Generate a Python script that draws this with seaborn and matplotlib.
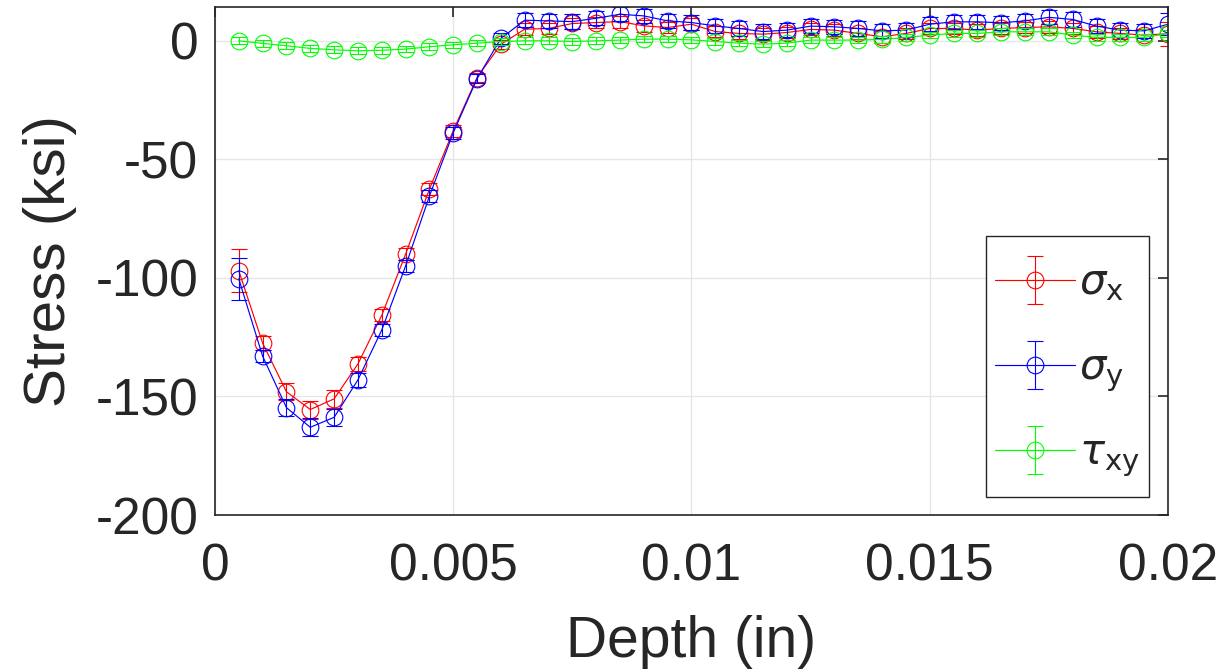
import numpy as np
import pandas as pd
import matplotlib
matplotlib.use("Agg")
import matplotlib.pyplot as plt
import seaborn as sns
from matplotlib.container import ErrorbarContainer
from matplotlib.legend_handler import HandlerErrorbar, HandlerTuple

# depth positions (in)
depth = [0.0005 * i for i in range(1, 41)]

sigma_x = [-97.0, -127.5, -148.0, -155.5, -151.0, -136.3, -115.8, -90.0, -62.6, -37.9,
           -15.5, -1.5, 4.9, 5.2, 7.3, 7.7, 8.1, 6.3, 5.6, 7.0,
           3.9, 3.1, 2.8, 3.5, 4.8, 4.5, 3.1, 1.7, 3.1, 5.2,
           5.2, 4.5, 5.2, 5.6, 5.9, 5.2, 3.8, 3.1, 2.4, 3.0]
sigma_x_err = [9.0, 3.0, 3.6, 3.8, 3.8, 3.1, 2.5, 2.5, 2.5, 2.5,
               2.0, 2.0, 2.5, 2.5, 2.5, 2.5, 2.5, 2.5, 2.5, 2.5,
               2.5, 2.5, 2.5, 2.5, 2.5, 2.5, 2.5, 2.5, 2.5, 2.5,
               2.5, 2.5, 2.5, 2.5, 2.5, 2.5, 2.5, 2.5, 2.5, 5.0]

sigma_y = [-100.4, -133.0, -154.7, -163.0, -158.8, -143.0, -122.0, -95.0, -65.5, -38.8,
           -16.0, 1.0, 8.7, 8.4, 8.1, 9.5, 11.2, 10.5, 8.4, 7.7,
           6.3, 5.2, 3.9, 4.5, 6.2, 5.9, 5.2, 4.2, 4.5, 7.0,
           8.0, 8.0, 7.6, 8.4, 9.9, 9.0, 6.2, 4.5, 4.2, 7.0]
sigma_y_err = [8.8, 2.5, 3.7, 3.8, 3.7, 3.0, 2.5, 2.5, 2.5, 2.5,
               2.0, 2.5, 3.0, 3.0, 3.0, 3.0, 3.0, 3.0, 3.0, 3.0,
               3.0, 3.0, 3.0, 3.0, 3.0, 3.0, 3.0, 3.0, 3.0, 3.0,
               3.0, 3.0, 3.0, 3.0, 3.0, 3.0, 3.0, 3.0, 3.0, 4.6]

tau_xy = [0.0, -1.1, -2.1, -3.2, -3.8, -4.2, -4.0, -3.5, -2.5, -1.7,
          -1.0, -0.3, 0.0, 0.0, -0.3, 0.0, 0.3, 0.7, 0.7, 0.4,
          -0.3, -1.0, -1.4, -1.0, 0.3, 0.3, 0.3, 0.6, 1.4, 2.4,
          3.1, 3.1, 3.8, 3.8, 3.8, 2.4, 1.4, 1.4, 1.4, 3.1]
tau_xy_err = [1.4] * 40

labels = [r'$\sigma_{\rm x}$', r'$\sigma_{\rm y}$', r'$\tau_{\rm xy}$']
colors = ['#ff0000', '#0000ff', '#00ff00']

xticks = [0, 0.005, 0.01, 0.015, 0.02]
xticklabels = ['0', '0.005', '0.01', '0.015', '0.02']
yticks = [-200, -150, -100, -50, 0]
yticklabels = ['-200', '-150', '-100', '-50', '0']


class LoweredTuple(HandlerTuple):
    # draws the legend marker a bit lower, level with the symbol
    def create_artists(self, legend, orig_handle, xdescent, ydescent,
                       width, height, fontsize, trans):
        return super().create_artists(legend, orig_handle, xdescent, ydescent + 14.4,
                                      width, height, fontsize, trans)


sns.set_theme(style='white')
plt.rcParams['font.family'] = ['Liberation Sans', 'DejaVu Sans']
plt.rcParams['mathtext.fontset'] = 'dejavusans'

fig = plt.figure(figsize=(12.27, 6.70), dpi=100)
ax = fig.add_axes([0.1752, 0.2313, 0.7767, 0.7577])

series = [(sigma_x, sigma_x_err), (sigma_y, sigma_y_err), (tau_xy, tau_xy_err)]
handles = []
for (vals, errs), lab, col in zip(series, labels, colors):
    df = pd.DataFrame({'depth': depth, 'stress': vals, 'err': errs})
    sns.lineplot(data=df, x='depth', y='stress', color=col, marker='o',
                 markersize=12, markerfacecolor='none', markeredgecolor=col,
                 markeredgewidth=0.8, linewidth=0.85, ax=ax, legend=False)
    line = ax.lines[-1]
    eb = ax.errorbar(df['depth'], df['stress'], yerr=df['err'], fmt='none',
                     ecolor=col, elinewidth=0.8, capsize=5.8, capthick=0.8)
    handles.append((line, eb))

ax.set_xlim(0, 0.02)
ax.set_ylim(-200, 14.1)
ax.set_xticks(xticks)
ax.set_xticklabels(xticklabels)
ax.set_yticks(yticks)
ax.set_yticklabels(yticklabels)

ax.grid(True, color='#e6e6e6', linewidth=1.0)
for s in ax.spines.values():
    s.set_visible(True)
    s.set_color('#262626')
    s.set_linewidth(1.2)
ax.tick_params(direction='in', length=7, width=1.2, color='#262626',
               top=True, right=True, labelsize=37, labelcolor='#262626', pad=12)
ax.tick_params(axis='x', pad=20)

ax.set_xlabel('Depth (in)', fontsize=41, color='#262626', labelpad=17)
ax.set_ylabel('Stress (ksi)', fontsize=42, color='#262626', labelpad=13)

leg = ax.legend(handles, labels, loc='upper left', bbox_to_anchor=(0.809, 0.5495),
                borderaxespad=0, fontsize=30, handlelength=1.92, handleheight=2.3,
                handletextpad=0.1, labelspacing=0.3, borderpad=0.22,
                fancybox=False, framealpha=1,
                handler_map={tuple: LoweredTuple(ndivide=1),
                             ErrorbarContainer: HandlerErrorbar(xerr_size=0.58)})
leg.get_frame().set_edgecolor('#262626')
leg.get_frame().set_linewidth(1.0)

fig.savefig('out.png', dpi=100)
